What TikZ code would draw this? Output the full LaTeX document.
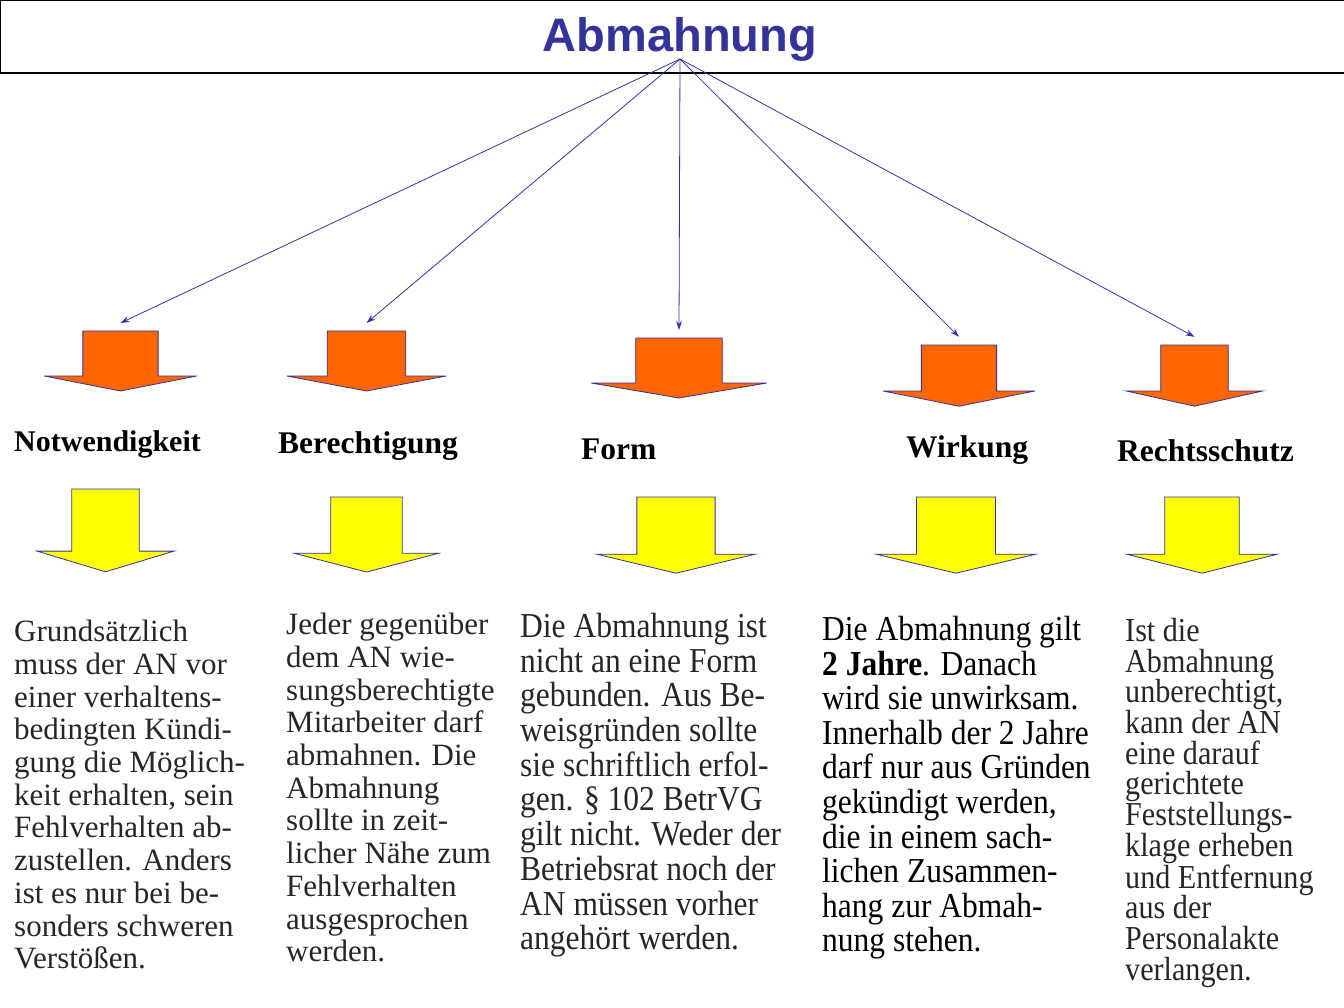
\documentclass[tikz,border=0pt]{standalone}
\usepackage{fontspec}
\setmainfont{Liberation Serif}
\newfontfamily\titlefont{Liberation Sans}
\newfontfamily\narrowserif[FakeStretch=0.9]{Liberation Serif}
\usepackage{xcolor}
\usetikzlibrary{arrows.meta}
\definecolor{titleblue}{HTML}{333399}
\definecolor{linkblue}{HTML}{3333AA}
\definecolor{arroworange}{HTML}{FF6600}
\definecolor{arrowyellow}{HTML}{FFFF00}
\tikzset{
    % Block arrow pointing down, origin at the top centre of the shaft
    diagram_blockarrow/.pic={
        \draw[line width=0.8pt, draw=titleblue, fill=#1] (-38,0) -- (38,0) -- (38,45) -- (77,45) -- (0,60) -- (-77,45) -- (-38,45) -- cycle;
        \coordinate (-in) at (0,-8);
    },
    connector/.style={line width=0.8pt, draw=linkblue, -{Stealth[length=9pt,width=6pt]}},
    heading/.style={anchor=base west, inner sep=0pt, font=\fontsize{31.5}{36}\selectfont\bfseries},
    bodytext/.style={anchor=north west, inner sep=0pt, align=left, text=black!85},
}

\begin{document}
\begin{tikzpicture}[x=1pt, y=-1pt]
    \useasboundingbox (0,0) rectangle (1344,1008);

    % Title bar
    \draw[line width=1.3pt] (0.6,0.6) rectangle (1360,73);
    \node[inner sep=0pt, text=titleblue, font=\titlefont\bfseries\fontsize{47}{50}\selectfont] (title) at (680,39) {Abmahnung};
    \coordinate (hub) at (680,59);

    % Row 1: orange arrows
    \pic[xscale=0.99]            (ar1) at (120.5,331) {diagram_blockarrow=arroworange};
    \pic[xscale=1.035]           (ar2) at (366.5,331) {diagram_blockarrow=arroworange};
    \pic[xscale=1.14]            (ar3) at (679,338)   {diagram_blockarrow=arroworange};
    \pic[xscale=0.99,yscale=1.02] (ar4) at (959,345)  {diagram_blockarrow=arroworange};
    \pic[xscale=0.89,yscale=1.02] (ar5) at (1194.5,345) {diagram_blockarrow=arroworange};

    \foreach \a in {ar1,ar2,ar3,ar4,ar5}
        \draw[connector] (hub) -- (\a-in);

    % Row 2: headings
    \node[heading, font=\fontsize{30}{36}\selectfont\bfseries] (h1) at (14,451) {Notwendigkeit};
    \node[heading] (h2) at (278,453)  {Berechtigung};
    \node[heading] (h3) at (581,459)  {Form};
    \node[heading] (h4) at (906,457)  {Wirkung};
    \node[heading] (h5) at (1117,461) {Rechtsschutz};

    % Row 3: yellow arrows
    \pic[xscale=0.89,yscale=1.38] (ye1) at (105.5,489) {diagram_blockarrow=arrowyellow};
    \pic[xscale=0.94,yscale=1.25] (ye2) at (366.5,497) {diagram_blockarrow=arrowyellow};
    \pic[xscale=1.03,yscale=1.27] (ye3) at (676,497)   {diagram_blockarrow=arrowyellow};
    \pic[xscale=1.04,yscale=1.27] (ye4) at (956,497)   {diagram_blockarrow=arrowyellow};
    \pic[xscale=0.98,yscale=1.27] (ye5) at (1202,497)  {diagram_blockarrow=arrowyellow};

    % Row 4: explanations
    \node[bodytext, font=\fontsize{31}{32.7}\selectfont] (t1) at (14,620) {Grundsätzlich\\
        muss der AN vor\\
        einer verhaltens-\\
        bedingten Kündi-\\
        gung die Möglich-\\
        keit erhalten, sein\\
        Fehlverhalten ab-\\
        zustellen. Anders\\
        ist es nur bei be-\\
        sonders schweren\\
        Verstößen.};
    \node[bodytext, font=\fontsize{31}{32.7}\selectfont] (t2) at (286,613) {Jeder gegenüber\\
        dem AN wie-\\
        sungsberechtigte\\
        Mitarbeiter darf\\
        abmahnen. Die\\
        Abmahnung\\
        sollte in zeit-\\
        licher Nähe zum\\
        Fehlverhalten\\
        ausgesprochen\\
        werden.};
    \node[bodytext, font=\narrowserif\fontsize{35}{34.7}\selectfont] (t3) at (520,613) {Die Abmahnung ist\\
        nicht an eine Form\\
        gebunden. Aus Be-\\
        weisgründen sollte\\
        sie schriftlich erfol-\\
        gen. § 102 BetrVG\\
        gilt nicht. Weder der\\
        Betriebsrat noch der\\
        AN müssen vorher\\
        angehört werden.};
    \node[bodytext, text=black, font=\narrowserif\fontsize{35}{34.6}\selectfont] (t4) at (822,616) {Die Abmahnung gilt\\
        \textbf{2 Jahre}. Danach\\
        wird sie unwirksam.\\
        Innerhalb der 2 Jahre\\
        darf nur aus Gründen\\
        gekündigt werden,\\
        die in einem sach-\\
        lichen Zusammen-\\
        hang zur Abmah-\\
        nung stehen.};
    \node[bodytext, font=\narrowserif\fontsize{33.5}{30.7}\selectfont] (t5) at (1125,618) {\lineskiplimit=-40pt\relax Ist die\\
        Abmahnung\\
        unberechtigt,\\
        kann der AN\\
        eine darauf\\
        gerichtete\\
        Feststellungs-\\
        klage erheben\\
        und Entfernung\\
        aus der\\
        Personalakte\\
        verlangen.};
\end{tikzpicture}
\end{document}
